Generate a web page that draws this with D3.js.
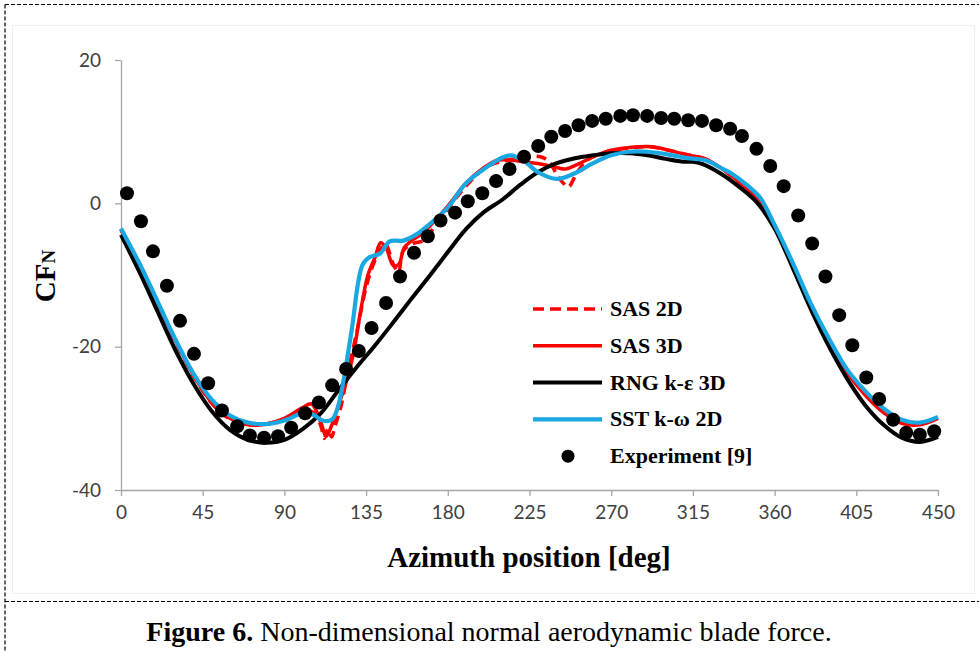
<!DOCTYPE html>
<html>
<head>
<meta charset="utf-8">
<script src="https://cdn.jsdelivr.net/npm/d3@7"></script>
<style>
  html, body { margin: 0; padding: 0; background: #fff; }
  svg { display: block; }
</style>
</head>
<body>
<svg id="chart"></svg>
<script>
// azimuth ticks and CF_N ticks
const xTicks = [0, 45, 90, 135, 180, 225, 270, 315, 360, 405, 450];
const yTicks = [-40, -20, 0, 20];

// SAS 2D (dashed red)
const sas2dDeg = [0, 10, 20, 30, 40, 50, 60, 70, 80, 90, 100, 106, 110, 112, 114, 116, 118, 121, 125, 130, 135, 139, 142.7, 145.5, 150, 152.8, 155.5, 161, 166.5, 172, 180, 190, 201.5, 212.5, 223.5, 231, 236, 240, 243.7, 246.5, 251, 256.6, 267.6, 280, 290, 300, 310, 320, 330, 340, 350, 360, 370, 380, 390, 400, 410, 420, 430, 440, 450];
const sas2dVal = [-3.7, -8.6, -13.9, -19.3, -24.1, -27.9, -30.1, -30.9, -30.8, -30.1, -28.8, -29.2, -31, -32.8, -31.5, -32.6, -31, -28.5, -23.5, -17.8, -11.7, -8.5, -6.6, -5.6, -8.5, -9.6, -6.6, -5.6, -5.2, -3.5, -0.8, 2.4, 5.1, 6.0, 6.5, 6.5, 5.8, 4.0, 2.8, 2.3, 4.2, 6.0, 7.2, 7.7, 7.9, 7.5, 6.9, 6.3, 5.0, 3.0, 0.7, -3.2, -8.5, -14.2, -19.2, -23.5, -26.7, -29.1, -30.6, -30.8, -29.9];

// SAS 3D (solid red)
const sas3dDeg = [0, 10, 20, 30, 40, 50, 60, 70, 80, 90, 100, 105, 110, 113, 116, 120, 124, 128, 132, 136, 140, 143, 146, 150, 153, 156, 160, 165, 170, 180, 190, 200, 207, 215, 222, 231, 240, 245, 252, 262, 270, 280, 293, 300, 308, 315, 322, 330, 337, 345, 352, 360, 370, 380, 390, 400, 410, 420, 430, 440, 450];
const sas3dVal = [-3.6, -8.5, -13.8, -19.2, -24, -27.8, -30, -30.9, -30.8, -30, -28.5, -28, -30.5, -32.5, -31, -28, -25, -21, -15, -10, -7.5, -5.5, -6.2, -8.7, -8.5, -6.2, -5.2, -4.4, -3.2, -0.4, 2.8, 5.0, 6.0, 6.0, 5.8, 5.5, 5.0, 4.8, 5.5, 6.7, 7.4, 7.8, 7.9, 7.5, 7.0, 6.6, 6.2, 5.0, 3.7, 2.0, 0.3, -3.2, -8.6, -14.3, -19.3, -23.6, -26.8, -29.2, -30.7, -30.9, -30.0];

// RNG k-e 3D (black)
const rngDeg = [0, 10, 20, 30, 40, 50, 60, 70, 80, 90, 100, 110, 120, 130, 140, 150, 160, 170, 180, 190, 200, 210, 220, 230, 240, 250, 260, 270, 280, 290, 300, 310, 315, 320, 330, 340, 350, 360, 370, 380, 390, 400, 410, 420, 430, 440, 450];
const rngVal = [-4.4, -9.5, -15, -20.5, -25.2, -29, -31.6, -33, -33.4, -33, -31.5, -29.3, -26, -22.8, -19.8, -16.6, -13.3, -10.1, -6.8, -3.6, -1.2, 0.5, 2.6, 4.4, 5.6, 6.3, 6.7, 7.0, 7.0, 6.7, 6.2, 5.8, 5.8, 5.5, 4.2, 2.4, 0.2, -3.5, -9, -14.8, -20, -24.5, -28.2, -30.9, -32.7, -33.3, -32.6];

// SST k-w 2D (blue)
const sstDeg = [0, 10, 20, 30, 40, 50, 60, 70, 80, 90, 100, 106, 111, 116, 119, 122, 127, 133, 137, 142.7, 148, 155.5, 163, 170, 180, 190, 200, 210, 215, 222, 230, 240, 250, 260, 270, 280, 290, 304, 312, 322, 330, 336, 345, 352, 360, 370, 380, 390, 400, 410, 420, 430, 440, 450];
const sstVal = [-3.5, -8.3, -13.6, -19, -23.8, -27.4, -29.6, -30.6, -30.8, -30.3, -29.3, -29.5, -30.3, -30.2, -28.8, -25.5, -17.8, -8.6, -7.5, -7.0, -5.3, -5.2, -4.3, -2.9, -0.6, 2.8, 4.8, 6.4, 6.7, 5.9, 4.3, 3.4, 4.2, 5.6, 6.7, 7.2, 7.2, 6.7, 6.3, 6.0, 5.0, 4.2, 2.5, 0.8, -3, -8.3, -14, -18.9, -23.2, -26.2, -28.6, -30.2, -30.6, -29.8];

// Experiment [9]
const expDeg = [3.3, 11, 17.6, 25.3, 32.5, 40.2, 48, 55.6, 64, 71, 78.8, 86.5, 93.7, 101.4, 109, 116.3, 124, 131, 138, 146, 153.7, 161.4, 169, 176, 184, 191, 199, 206.6, 214, 222, 229.8, 237, 244.6, 252, 259.5, 267, 275, 282, 289.8, 297.5, 304.7, 312.4, 320, 327.8, 335.5, 342, 350, 357.6, 365, 373, 380.7, 388, 395.6, 402.8, 410.5, 417.6, 425.3, 432.5, 440, 447.9];
const expVal = [1.4, -2.5, -6.7, -11.5, -16.4, -21, -25.1, -28.9, -31.1, -32.4, -32.7, -32.5, -31.3, -29.3, -27.8, -25.4, -23.1, -20.6, -17.4, -13.9, -10.2, -6.9, -4.6, -2.4, -1.3, 0.3, 1.4, 3.1, 4.8, 6.5, 8, 9.3, 10.1, 10.9, 11.5, 11.8, 12.2, 12.3, 12.2, 11.9, 11.8, 11.6, 11.5, 10.9, 10.4, 9.4, 7.6, 5.2, 2.4, -1.7, -5.6, -10.2, -15.6, -19.8, -24.3, -27.3, -30.2, -32, -32.3, -31.8];

const W = 979, H = 651;
const svg = d3.select("#chart").attr("width", W).attr("height", H);

// dashed frame of the figure
const frame = svg.append("g").attr("stroke", "#000").attr("stroke-width", 1.2).attr("stroke-dasharray", "4,2").attr("fill", "none");
frame.append("line").attr("x1", 5).attr("x2", W).attr("y1", 4.5).attr("y2", 4.5);
frame.append("line").attr("x1", 5).attr("x2", 5).attr("y1", 4.5).attr("y2", H);
frame.append("line").attr("x1", 5).attr("x2", W).attr("y1", 601.5).attr("y2", 601.5);

// faint chart area border
svg.append("rect")
  .attr("x", 12.5).attr("y", 25.5).attr("width", 962).attr("height", 568)
  .attr("fill", "none").attr("stroke", "#f0f0f0");

const x = d3.scaleLinear().domain([0, 450]).range([121, 938]);
const y = d3.scaleLinear().domain([-40, 20]).range([490, 60]);

const xAxis = svg.append("g")
  .attr("transform", `translate(0, ${y(-40)})`)
  .call(d3.axisBottom(x).tickValues(xTicks).tickFormat(d => String(d))
    .tickSize(6).tickPadding(10).tickSizeOuter(0));
const yAxis = svg.append("g")
  .attr("transform", `translate(${x(0)}, 0)`)
  .call(d3.axisLeft(y).tickValues(yTicks).tickFormat(d => String(d))
    .tickSize(6).tickPadding(14).tickSizeOuter(0));

[xAxis, yAxis].forEach(g => {
  g.select(".domain").attr("stroke", "#a6a6a6").attr("stroke-width", 1.3);
  g.selectAll(".tick line").attr("stroke", "#a6a6a6").attr("stroke-width", 1.3);
  g.selectAll(".tick text")
    .attr("fill", "#404040")
    .style("font-family", "Lato, 'Open Sans', sans-serif")
    .style("font-size", "19px");
});

const line = d3.line()
  .x(d => x(d[0]))
  .y(d => y(d[1]))
  .curve(d3.curveCatmullRom.alpha(0.5));

const zip = (a, b) => a.map((v, i) => [v, b[i]]);

const plot = svg.append("g");
plot.append("path").datum(zip(sas2dDeg, sas2dVal))
  .attr("d", line).attr("fill", "none").attr("stroke", "#ff0000")
  .attr("stroke-width", 3.5).attr("stroke-dasharray", "10,6");
plot.append("path").datum(zip(sas3dDeg, sas3dVal))
  .attr("d", line).attr("fill", "none").attr("stroke", "#ff0000")
  .attr("stroke-width", 3.5);
plot.append("path").datum(zip(rngDeg, rngVal))
  .attr("d", line).attr("fill", "none").attr("stroke", "#000")
  .attr("stroke-width", 4);
plot.append("path").datum(zip(sstDeg, sstVal))
  .attr("d", line).attr("fill", "none").attr("stroke", "#1aa8e2")
  .attr("stroke-width", 4.2);

plot.selectAll("circle.exp")
  .data(zip(expDeg, expVal))
  .enter()
  .append("circle")
  .attr("class", "exp")
  .attr("cx", d => x(d[0]))
  .attr("cy", d => y(d[1]))
  .attr("r", 7)
  .attr("fill", "#000");

// axis titles
const serif = "'Liberation Serif', 'Times New Roman', serif";
svg.append("text")
  .attr("x", 529).attr("y", 567)
  .attr("text-anchor", "middle")
  .style("font-family", serif).style("font-weight", "bold").style("font-size", "29px")
  .text("Azimuth position [deg]");

const yt = svg.append("text")
  .attr("transform", "translate(55, 276) rotate(-90)")
  .attr("text-anchor", "middle")
  .style("font-family", serif).style("font-weight", "bold").style("font-size", "29px");
yt.append("tspan").text("CF");
yt.append("tspan").style("font-size", "19px").text("N");

// legend
const legendItems = [
  {label: "SAS 2D", color: "#ff0000", dash: "11,6", w: 3.5},
  {label: "SAS 3D", color: "#ff0000", dash: null, w: 3.5},
  {label: "RNG k-\u03b5 3D", color: "#000", dash: null, w: 4},
  {label: "SST k-\u03c9 2D", color: "#1aa8e2", dash: null, w: 4.2},
  {label: "Experiment [9]", dot: true}
];
const legend = svg.append("g");
legendItems.forEach((d, i) => {
  const cy = 309 + i * 36.8;
  if (d.dot) {
    legend.append("circle").attr("cx", 568).attr("cy", cy).attr("r", 6.5).attr("fill", "#000");
  } else {
    legend.append("line")
      .attr("x1", 533).attr("x2", 602).attr("y1", cy).attr("y2", cy)
      .attr("stroke", d.color).attr("stroke-width", d.w)
      .attr("stroke-dasharray", d.dash);
  }
  legend.append("text")
    .attr("x", 610).attr("y", cy + 7)
    .style("font-family", serif).style("font-weight", "bold").style("font-size", "22px")
    .attr("fill", "#000")
    .text(d.label);
});

// caption
const cap = svg.append("text")
  .attr("x", 489).attr("y", 641)
  .attr("text-anchor", "middle")
  .style("font-family", serif).style("font-size", "28px");
cap.append("tspan").style("font-weight", "bold").text("Figure 6.");
cap.append("tspan").text(" Non-dimensional normal aerodynamic blade force.");
</script>
</body>
</html>
